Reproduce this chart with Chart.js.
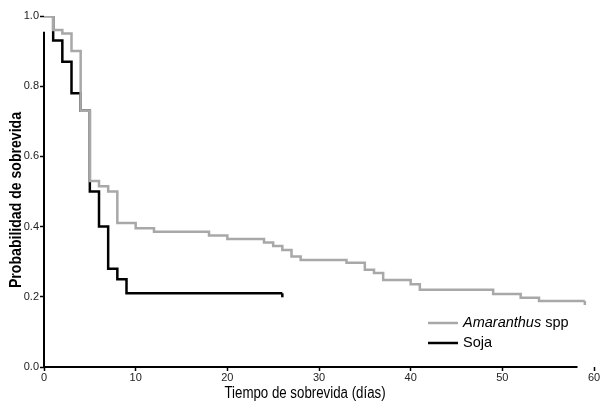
<!DOCTYPE html>
<html>
<head>
<meta charset="utf-8">
<script src="https://cdn.jsdelivr.net/npm/chart.js@4.4.0/dist/chart.umd.min.js"></script>
<style>
  html, body { margin: 0; padding: 0; background: #fff; }
  #wrap { width: 608px; height: 403px; }
</style>
</head>
<body>
<div id="wrap"><canvas id="km"></canvas></div>
<script>
// --- dati (Kaplan-Meier) ---
const amaranthusDays = [0, 1, 2, 3, 4, 5, 6, 7, 8, 10, 12, 18, 20, 24, 25, 26, 27, 28, 33, 35, 36, 37, 40, 41, 49, 52, 54, 59];
const amaranthusSurv = [1.0, 0.96, 0.95, 0.90, 0.73, 0.53, 0.515, 0.50, 0.41, 0.395, 0.385, 0.375, 0.365, 0.355, 0.345, 0.333, 0.315, 0.305, 0.297, 0.277, 0.268, 0.248, 0.236, 0.22, 0.208, 0.197, 0.188, 0.188];

const sojaDays = [0, 1, 2, 3, 4, 5, 6, 7, 8, 9, 26];
const sojaSurv = [1.0, 0.93, 0.87, 0.78, 0.73, 0.50, 0.40, 0.28, 0.25, 0.21, 0.21];

const xTicks = [0, 10, 20, 30, 40, 50, 60];
const yTicks = [0, 0.2, 0.4, 0.6, 0.8, 1.0];

const GRAY = '#a8a8a8';
const FONT = "'Liberation Sans', Arial, sans-serif";

function toPoints(xs, ys) {
    return xs.map((x, i) => ({ x: x, y: ys[i] }));
}

// testo "stretto" (il font originale è condensato)
function narrowText(ctx, text, x, y, rot, squeeze) {
    ctx.save();
    ctx.translate(x, y);
    ctx.rotate(rot);
    ctx.scale(squeeze, 1);
    ctx.fillText(text, 0, 0);
    ctx.restore();
}

// assi, titoli e legenda disegnati a mano
const axesPlugin = {
    id: 'axesPlugin',
    afterDraw(chart) {
        const ctx = chart.ctx;
        const xs = chart.scales.x, ys = chart.scales.y;
        ctx.save();
        ctx.strokeStyle = '#000';
        ctx.lineWidth = 2;
        ctx.beginPath();
        ctx.moveTo(xs.getPixelForValue(0), ys.getPixelForValue(0) + 1);
        ctx.lineTo(xs.getPixelForValue(0), ys.getPixelForValue(0.955));
        ctx.moveTo(xs.getPixelForValue(0) - 1, ys.getPixelForValue(0));
        ctx.lineTo(xs.getPixelForValue(58.2), ys.getPixelForValue(0));
        ctx.stroke();

        // tacche di censura alla fine delle curve
        chart.data.datasets.forEach((ds, i) => {
            const pts = chart.getDatasetMeta(i).data;
            const last = pts[pts.length - 1];
            ctx.strokeStyle = ds.borderColor;
            ctx.lineWidth = 2.5;
            ctx.beginPath();
            ctx.moveTo(last.x, last.y);
            ctx.lineTo(last.x, last.y + 4);
            ctx.stroke();
        });

        // titoli degli assi
        ctx.fillStyle = '#000';
        ctx.textAlign = 'center';
        ctx.textBaseline = 'middle';
        ctx.font = '16px ' + FONT;
        narrowText(ctx, 'Tiempo de sobrevida (días)', 305, 394, 0, 0.83);
        ctx.font = 'bold 16px ' + FONT;
        narrowText(ctx, 'Probabilidad de sobrevida', 17, 200, -Math.PI / 2, 0.88);

        // legenda con corsivo misto
        const lx = 428, ly = 323;
        ctx.lineWidth = 2.5;
        ctx.strokeStyle = GRAY;
        ctx.beginPath(); ctx.moveTo(lx, ly); ctx.lineTo(lx + 30, ly); ctx.stroke();
        ctx.strokeStyle = '#000';
        ctx.beginPath(); ctx.moveTo(lx, ly + 20); ctx.lineTo(lx + 30, ly + 20); ctx.stroke();
        ctx.textAlign = 'left';
        ctx.font = 'italic 14.5px ' + FONT;
        ctx.fillText('Amaranthus', lx + 35, ly);
        const w = ctx.measureText('Amaranthus').width;
        ctx.font = '14.5px ' + FONT;
        ctx.fillText(' spp', lx + 35 + w, ly);
        ctx.fillText('Soja', lx + 35, ly + 20);
        ctx.restore();
    }
};

new Chart(document.getElementById('km'), {
    type: 'line',
    data: {
        datasets: [
            {
                label: 'Amaranthus spp',
                data: toPoints(amaranthusDays, amaranthusSurv),
                borderColor: GRAY,
                borderWidth: 2.5,
                stepped: true,
                pointRadius: 0,
                fill: false
            },
            {
                label: 'Soja',
                data: toPoints(sojaDays, sojaSurv),
                borderColor: '#000',
                borderWidth: 2.5,
                stepped: true,
                pointRadius: 0,
                fill: false
            }
        ]
    },
    options: {
        responsive: true,
        maintainAspectRatio: false,
        animation: false,
        layout: { padding: { left: 0, right: 14, top: 16, bottom: 0 } },
        plugins: {
            legend: { display: false },
            tooltip: { enabled: false }
        },
        scales: {
            x: {
                type: 'linear',
                min: 0, max: 60,
                afterBuildTicks: (s) => { s.ticks = xTicks.map(v => ({ value: v })); },
                afterFit: (s) => { s.height = 36; },
                border: { display: false },
                grid: { drawOnChartArea: false, drawTicks: true, tickLength: 4, tickWidth: 1.5, tickColor: '#000', color: '#000' },
                ticks: { color: '#222', font: { family: FONT, size: 11 }, padding: 0, maxRotation: 0 }
            },
            y: {
                min: 0, max: 1,
                afterBuildTicks: (s) => { s.ticks = yTicks.map(v => ({ value: v })); },
                afterFit: (s) => { s.width = 44; },
                border: { display: false },
                grid: { drawOnChartArea: false, drawTicks: true, tickLength: 4, tickWidth: 1.5, tickColor: '#000', color: '#000' },
                ticks: { color: '#222', font: { family: FONT, size: 11 }, padding: 1, callback: (v) => v.toFixed(1) }
            }
        }
    },
    plugins: [axesPlugin]
});
</script>
</body>
</html>
